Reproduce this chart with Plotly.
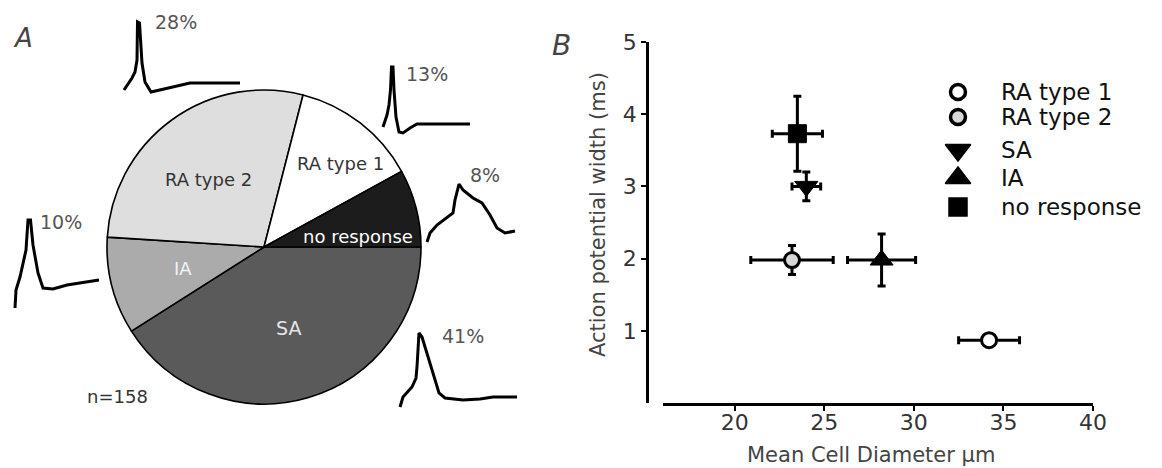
import plotly.graph_objects as go

W, H = 1162, 468
FONT = "DejaVu Sans"

# ---- Panel A: response types of recorded neurons (n=158) ----
pie_labels = ["SA", "IA", "RA type 2", "RA type 1", "no response"]
pie_pct = [41, 10, 28, 13, 8]
n_cells = 158

# ---- Panel B: mean cell diameter vs action potential width ----
groups = ["RA type 1", "RA type 2", "SA", "IA", "no response"]
diameter = [34.2, 23.2, 24.0, 28.2, 23.5]
diameter_err = [1.7, 2.3, 0.8, 1.9, 1.4]
ap_width = [0.87, 1.98, 3.0, 1.98, 3.73]
ap_width_err = [0.05, 0.2, 0.2, 0.36, 0.52]

x_ticks = [20, 25, 30, 35, 40]
y_ticks = [1, 2, 3, 4, 5]

# ---- Example action potentials (time, voltage in display units from trace start) ----
wave_t = {
    "RA type 2": [0, 8, 11, 13, 13.5, 15.5, 18, 21, 27, 36, 49, 66, 116],
    "RA type 1": [0, 4, 6, 7.5, 8.5, 10, 11, 13, 16, 20, 27, 34, 87],
    "no response": [0, 3, 10, 20, 26, 28, 32, 36, 46, 55, 63, 70, 78, 88],
    "IA": [0, 1, 5, 8, 11, 13, 15.5, 18, 23, 28, 38, 52, 65, 84],
    "SA": [0, 3, 12, 16, 17, 18, 19, 22, 30, 39, 45, 63, 80, 93, 105, 117],
}
wave_v = {
    "RA type 2": [0, 12, 18, 30, 68, 67, 27, 8, -2, 0, 3, 7, 7],
    "RA type 1": [0, 12, 22, 37, 60, 60, 37, 10, -5, -6, -1, 3, 3],
    "no response": [0, 9, 17, 24, 29, 42, 58, 52, 44, 39, 27, 14, 9, 11],
    "IA": [0, 18, 31, 46, 58, 88, 88, 63, 35, 20, 19, 23, 25, 28],
    "SA": [0, 10, 20, 29, 40, 54, 74, 70, 44, 14, 9, 7, 8, 10, 10, 10],
}

# placement of each example trace (pixel origin) and its percentage label
wave_origin = {
    "RA type 2": (124, 90), "RA type 1": (383, 127), "no response": (427, 242),
    "IA": (15, 308), "SA": (400, 407),
}
pct_pos = {
    "RA type 2": (176, 22), "RA type 1": (427, 74), "no response": (485, 175),
    "IA": (61, 222), "SA": (463, 336),
}


def px(x):
    return x / W


def py(y):
    return 1 - y / H


fig = go.Figure()

# pie chart
pie_colors = ["#5a5a5a", "#ababab", "#dedede", "#ffffff", "#1c1c1c"]
cx, cy, r = 264, 247, 157
fig.add_trace(go.Pie(
    labels=pie_labels, values=pie_pct, sort=False, direction="clockwise",
    rotation=90, textinfo="none", hoverinfo="label+percent",
    marker=dict(colors=pie_colors, line=dict(color="black", width=1.6)),
    domain=dict(x=[px(cx - r), px(cx + r)], y=[py(cy + r), py(cy - r)]),
    showlegend=False,
))

# example traces on a full-figure pixel overlay
for name in wave_t:
    x0, y0 = wave_origin[name]
    fig.add_trace(go.Scatter(
        x=[x0 + t for t in wave_t[name]], y=[y0 - v for v in wave_v[name]],
        mode="lines", line=dict(color="black", width=3),
        xaxis="x2", yaxis="y2", showlegend=False, hoverinfo="skip",
    ))

# scatter with error bars
symbols = {"RA type 1": "circle", "RA type 2": "circle", "SA": "triangle-down",
           "IA": "triangle-up", "no response": "square"}
fills = {"RA type 1": "white", "RA type 2": "#d8d8d8", "SA": "black",
         "IA": "black", "no response": "black"}
sizes = {"RA type 1": 15, "RA type 2": 15, "SA": 20, "IA": 20, "no response": 18}
lines = {"RA type 1": 3, "RA type 2": 3, "SA": 1, "IA": 1, "no response": 1}

for i, g in enumerate(groups):
    fig.add_trace(go.Scatter(
        x=[diameter[i]], y=[ap_width[i]], mode="markers", name=g,
        marker=dict(symbol=symbols[g], color=fills[g], size=sizes[g],
                    line=dict(color="black", width=lines[g])),
        error_x=dict(type="data", array=[diameter_err[i]], color="black",
                     thickness=3, width=4),
        error_y=dict(type="data", array=[ap_width_err[i]], color="black",
                     thickness=3, width=4),
        showlegend=False,
    ))

# legend drawn in the pixel overlay
leg_y = [92, 117, 150, 178, 207]
leg_sizes = {"RA type 1": 15, "RA type 2": 15, "SA": 22, "IA": 22, "no response": 18}
for g, yy in zip(groups, leg_y):
    fig.add_trace(go.Scatter(
        x=[958], y=[yy], mode="markers", xaxis="x2", yaxis="y2",
        marker=dict(symbol=symbols[g], color=fills[g], size=leg_sizes[g],
                    line=dict(color="black", width=lines[g] + 0.5)),
        showlegend=False, hoverinfo="skip",
    ))

ann = []


def text(x, y, s, size, color="#333333", xanchor="center", **kw):
    ann.append(dict(x=px(x), y=py(y), xref="paper", yref="paper", text=s,
                    showarrow=False, xanchor=xanchor, yanchor="middle",
                    font=dict(family=FONT, size=size, color=color), **kw))


for g, yy in zip(groups, leg_y):
    text(999, yy, g, 23, "#111111", xanchor="left")

# pie slice labels
text(208, 180, "RA type 2", 18, "#333333")
text(340, 163, "RA type 1", 18, "#333333")
text(358, 236, "no response", 18, "#ffffff")
text(183, 268, "IA", 18, "#f2f2f2")
text(288, 328, "SA", 19, "#e6e6e6")
text(117, 396, f"n={n_cells}", 18, "#333333")

for lab, pct in zip(pie_labels, pie_pct):
    x, y = pct_pos[lab]
    text(x, y, f"{pct}%", 19, "#555555")

text(23, 38, "<i>A</i>", 26, "#444444")
text(561, 46, "<i>B</i>", 28, "#444444")

text(598, 215, "Action potential width (ms)", 21, "#444444", textangle=-90)
text(871, 455, "Mean Cell Diameter \u00b5m", 21, "#444444")

fig.update_layout(
    width=W, height=H, margin=dict(l=0, r=0, t=0, b=0, autoexpand=False),
    paper_bgcolor="white", plot_bgcolor="rgba(0,0,0,0)",
    showlegend=False, annotations=ann,
    xaxis=dict(domain=[px(663), px(1093)], range=[16, 40], tickvals=x_ticks,
               showline=True, linecolor="black", linewidth=2.6,
               ticks="outside", ticklen=5, tickwidth=2.4, tickcolor="black",
               ticklabelstandoff=-7,
               showgrid=False, zeroline=False, anchor="y",
               tickfont=dict(family=FONT, size=22, color="#333333")),
    yaxis=dict(domain=[py(403), py(42)], range=[0, 5], tickvals=y_ticks,
               showline=True, linecolor="black", linewidth=2.6,
               ticks="outside", ticklen=5, tickwidth=2.4, tickcolor="black",
               showgrid=False, zeroline=False, anchor="free", position=px(647),
               tickfont=dict(family=FONT, size=22, color="#333333")),
    xaxis2=dict(domain=[0, 1], range=[0, W], visible=False, anchor="y2",
                fixedrange=True),
    yaxis2=dict(domain=[0, 1], range=[H, 0], visible=False, anchor="x2",
                fixedrange=True),
)

fig.write_html("out.html")
